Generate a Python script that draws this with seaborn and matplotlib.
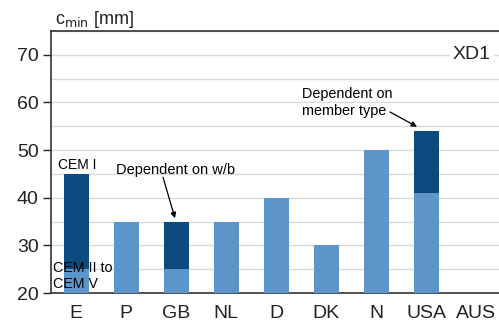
import matplotlib
matplotlib.use("Agg")
import matplotlib.pyplot as plt
from matplotlib.ticker import MultipleLocator
import numpy as np
import pandas as pd
import seaborn as sns

countries = ["E", "P", "GB", "NL", "D", "DK", "N", "USA", "AUS"]
base_cover = [25, 35, 25, 35, 40, 30, 50, 41, np.nan]      # CEM II-V / general requirement
upper_cover = [45, np.nan, 35, np.nan, np.nan, np.nan, np.nan, 54, np.nan]  # upper bound of range
y_ticks = [20, 30, 40, 50, 60, 70]

DARK = "#0C4A80"
LIGHT = "#5C95C9"
INK = "#222222"

sns.set_theme(style="white")
plt.rcParams["font.family"] = ["Liberation Sans", "DejaVu Sans"]

df = pd.DataFrame({"country": countries, "base": base_cover, "upper": upper_cover})

fig = plt.figure(figsize=(4.99, 3.28), dpi=100)
ax = fig.add_axes([51 / 499, 35 / 328, 450 / 499, 262 / 328])

sns.barplot(data=df, x="country", y="upper", order=countries, color=DARK,
            width=0.5, linewidth=0, saturation=1, ax=ax, zorder=2)
sns.barplot(data=df, x="country", y="base", order=countries, color=LIGHT,
            width=0.5, linewidth=0, saturation=1, ax=ax, zorder=3)

ax.set_ylim(20, 75)
ax.set_xlim(-0.5, 8.5)
ax.set_yticks(y_ticks)
ax.yaxis.set_minor_locator(MultipleLocator(5))
ax.grid(which="both", axis="y", color="#d9d9d9", linewidth=1.0, zorder=0)
ax.set_axisbelow(True)

ax.set_xlabel("")
ax.set_ylabel("")
ax.tick_params(axis="y", which="major", direction="out", length=6, width=1,
               color=INK, labelsize=14, labelcolor=INK, left=True, pad=3)
ax.tick_params(axis="y", which="minor", length=0)
ax.tick_params(axis="x", length=0, labelsize=14, labelcolor=INK, pad=9)

for side in ["top", "left", "bottom"]:
    ax.spines[side].set_color("#333333")
    ax.spines[side].set_linewidth(1.2)
ax.spines["right"].set_visible(False)

fig.text(55 / 499, 1 - 20 / 328, r"c$_{\mathrm{min}}$ [mm]", fontsize=13,
         color=INK, ha="left", va="center")

ax.text(8.3, 70, "XD1", fontsize=14, color=INK, ha="right", va="center",
        bbox=dict(facecolor="white", edgecolor="none", pad=2), zorder=4)

ax.text(0.02, 46.9, "CEM I", fontsize=10, color="black", ha="center", va="center", zorder=5)
ax.text(-0.46, 23.5, "CEM II to\nCEM V", fontsize=10.3, color="black", ha="left",
        va="center", linespacing=1.2, zorder=5)

arrow = dict(arrowstyle="-|>", color="black", lw=0.9, mutation_scale=8,
             shrinkA=0, shrinkB=0)
ax.text(2.0, 45.9, "Dependent on w/b", fontsize=10.5, color="black",
        ha="center", va="center", zorder=5)
ax.annotate("", xy=(1.98, 35.7), xytext=(1.74, 44.3), arrowprops=arrow, zorder=5)

ax.text(4.52, 60.0, "Dependent on\nmember type", fontsize=10.4, color="black",
        ha="left", va="center", linespacing=1.2, zorder=5)
ax.annotate("", xy=(6.82, 54.9), xytext=(6.28, 58.0), arrowprops=arrow, zorder=5)

fig.savefig("out.png", dpi=100)
